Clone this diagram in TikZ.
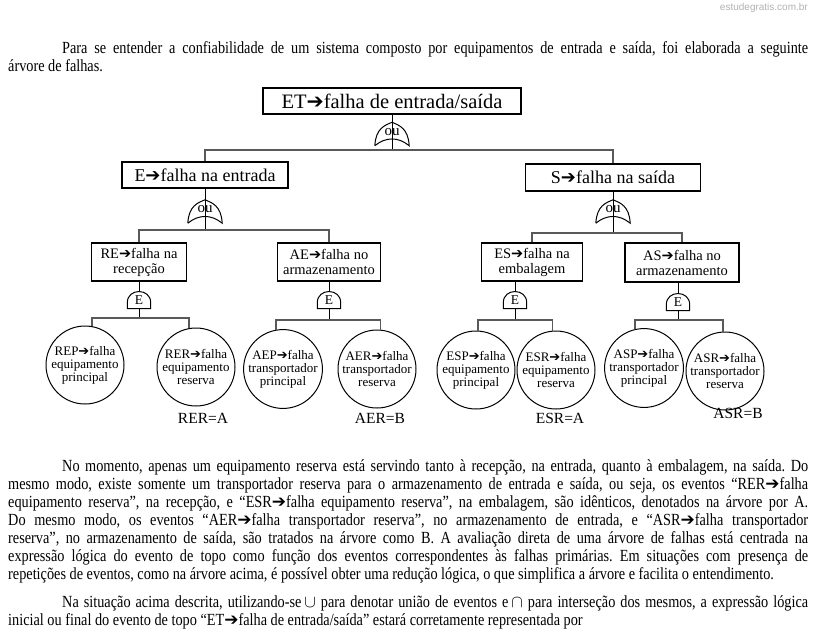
\documentclass[tikz,border=0pt]{standalone}
\usepackage{fontspec}
\usepackage{amssymb}
\setmainfont{Liberation Serif}
\newfontfamily\bodyfont{Liberation Serif}[FakeStretch=0.84]
\newfontfamily\arrowfont{DejaVu Sans}
\newfontfamily\markfont{Liberation Sans}
\newcommand{\arr}{{\arrowfont ➔}}
\frenchspacing
\usetikzlibrary{calc}
\usetikzlibrary{positioning}

\begin{document}
\begin{tikzpicture}[x=1pt,y=-1pt,inner sep=0pt,
  box/.style={draw,line width=1.1pt,align=center},
  topbox/.style={box,line width=1.8pt,minimum width=258pt,minimum height=26pt,font=\fontsize{20.5}{22}\selectfont},
  midbox/.style={box,line width=1.3pt,minimum height=26pt,font=\fontsize{18}{20}\selectfont},
  subbox/.style={box,minimum height=38pt,font=\fontsize{14.5}{15}\selectfont},
  basic/.style={draw,line width=1pt,circle,minimum size=78pt,align=center,font=\fontsize{13}{13}\selectfont},
  orgate/.style={minimum width=34pt,minimum height=23pt,text height=7pt,text depth=5pt,font=\fontsize{15}{15}\selectfont},
  andgate/.style={minimum width=23pt,minimum height=17pt,font=\fontsize{13.5}{13.5}\selectfont},
  bus/.style={gray!70!black,line width=1.3pt},
  stem/.style={line width=0.8pt},
  eqlabel/.style={font=\fontsize{15.5}{15.5}\selectfont},
  para/.style={anchor=north west,text width=800pt,align=justify,font=\bodyfont\fontsize{17}{18}\selectfont}]
\def\orshape#1{\draw[line width=1pt] (#1.south west) .. controls ($(#1.west)+(1,-6)$) and ($(#1.north)+(-7,3)$) .. (#1.north) .. controls ($(#1.north)+(7,3)$) and ($(#1.east)+(-1,-6)$) .. (#1.south east) .. controls ($(#1.south)+(6,-9)$) and ($(#1.south)+(-6,-9)$) .. (#1.south west);}
\def\andshape#1{\draw[line width=1pt] (#1.south west) -- ($(#1.south west)+(0,-6)$) .. controls ($(#1.north west)+(0,-3.5)$) and ($(#1.north east)+(0,-3.5)$) .. ($(#1.south east)+(0,-6)$) -- (#1.south east) -- cycle;}
\path[use as bounding box,fill=white] (0,0) rectangle (813,635);

\node[anchor=north east,font=\markfont\fontsize{10}{10}\selectfont,text=gray!60] (mark) at (808,3) {estudegratis.com.br};

\node[para] (p1) at (8,41) {\hspace*{54pt}Para se entender a confiabilidade de um sistema composto por equipamentos de entrada e saída, foi elaborada a seguinte\linebreak árvore de falhas.};

\node[topbox] (ET) at (392,101) {ET\arr falha de entrada/saída};
\node[orgate] (gET) at (392,134) {ou};
\coordinate (bET) at (392,150);

\node[midbox,minimum width=166pt] (E) at (205,175) {E\arr falha na entrada};
\node[midbox,minimum width=175pt,minimum height=27pt] (S) at (613,177.5) {S\arr falha na saída};
\node[orgate] (gE) at (205,211.5) {ou};
\node[orgate] (gS) at (613,211.5) {ou};
\coordinate (bE) at (205,230);
\coordinate (bS) at (613,233);

\node[subbox,minimum width=95pt] (RE) at (139,262) {RE\arr falha na\\recepção};
\node[subbox,minimum width=103pt] (AE) at (329,262) {AE\arr falha no\\armazenamento};
\node[subbox,minimum width=101pt] (ES) at (532,262) {ES\arr falha na\\embalagem};
\node[subbox,minimum width=114pt,minimum height=39pt] (AS) at (682,262.5) {AS\arr falha no\\armazenamento};

\node[andgate] (gRE) at (139,300) {E};
\node[andgate] (gAE) at (329,300) {E};
\node[andgate] (gES) at (515,300) {E};
\node[andgate] (gAS) at (678,302) {E};
\coordinate (bRE) at (139,318);
\coordinate (bAE) at (329,320);
\coordinate (bES) at (515,320);
\coordinate (bAS) at (678,320);

\node[basic] (REP) at (85,365) {REP\arr falha\\equipamento\\principal};
\node[basic] (RER) at (196,367) {RER\arr falha\\equipamento\\reserva};
\node[basic] (AEP) at (283,369) {AEP\arr falha\\transportador\\principal};
\node[basic] (AER) at (377,369) {AER\arr falha\\transportador\\reserva};
\node[basic] (ESP) at (476,370) {ESP\arr falha\\equipamento\\principal};
\node[basic] (ESR) at (556,370) {ESR\arr falha\\equipamento\\reserva};
\node[basic] (ASP) at (644,368) {ASP\arr falha\\transportador\\principal};
\node[basic] (ASR) at (725,371) {ASR\arr falha\\transportador\\reserva};

\node[eqlabel] (eqRER) at (203,418) {RER=A};
\node[eqlabel] (eqAER) at (380,418) {AER=B};
\node[eqlabel] (eqESR) at (560,418) {ESR=A};
\node[eqlabel] (eqASR) at (738,413) {ASR=B};

\draw[stem] (ET.south) -- (bET);
\orshape{gET}
\draw[bus] (E.north) |- (bET) -| (S.north);

\draw[stem] (E.south) -- (bE);
\orshape{gE}
\draw[bus] (RE.north) |- (bE) -| (AE.north);
\draw[stem] (S.south) -- (bS);
\orshape{gS}
\draw[bus] (ES.north) |- (bS) -| (AS.north);

\draw[stem] (RE.south) -- (gRE.north);
\draw[stem] (gRE.south) -- (bRE);
\andshape{gRE}
\draw[bus] (REP.80) |- (bRE) -| (RER.100);
\draw[stem] (AE.south) -- (gAE.north);
\draw[stem] (gAE.south) -- (bAE);
\andshape{gAE}
\draw[bus] (AEP.100) |- (bAE) -| (AER.85);
\draw[stem] (gES.north |- ES.south) -- (gES.north);
\draw[stem] (gES.south) -- (bES);
\andshape{gES}
\draw[bus] (ESP.87) |- (bES) -| (ESR.95);
\draw[stem] (gAS.north |- AS.south) -- (gAS.north);
\draw[stem] (gAS.south) -- (bAS);
\andshape{gAS}
\draw[bus] (ASP.103) |- (bAS) -| (ASR.93);

\node[para] (p2) at (8,459) {\parfillskip=0pt\hspace*{54pt}No momento, apenas um equipamento reserva está servindo tanto à recepção, na entrada, quanto à embalagem, na saída. Do\linebreak mesmo modo, existe somente um transportador reserva para o armazenamento de entrada e saída, ou seja, os eventos “RER\arr falha\linebreak equipamento reserva”, na recepção, e “ESR\arr falha equipamento reserva”, na embalagem, são idênticos, denotados na árvore por A.\linebreak Do mesmo modo, os eventos “AER\arr falha transportador reserva”, no armazenamento de entrada, e “ASR\arr falha transportador\linebreak reserva”, no armazenamento de saída, são tratados na árvore como B. A avaliação direta de uma árvore de falhas está centrada na\linebreak expressão lógica do evento de topo como função dos eventos correspondentes às falhas primárias. Em situações com presença de\linebreak repetições de eventos, como na árvore acima, é possível obter uma redução lógica, o que simplifica a árvore e facilita o entendimento.};

\node[para] (p3) at (8,595) {\hspace*{54pt}Na situação acima descrita, utilizando-se$\,\cup$ para denotar união de eventos e$\,\cap$ para interseção dos mesmos, a expressão lógica\linebreak inicial ou final do evento de topo “ET\arr falha de entrada/saída” estará corretamente representada por};
\end{tikzpicture}
\end{document}
